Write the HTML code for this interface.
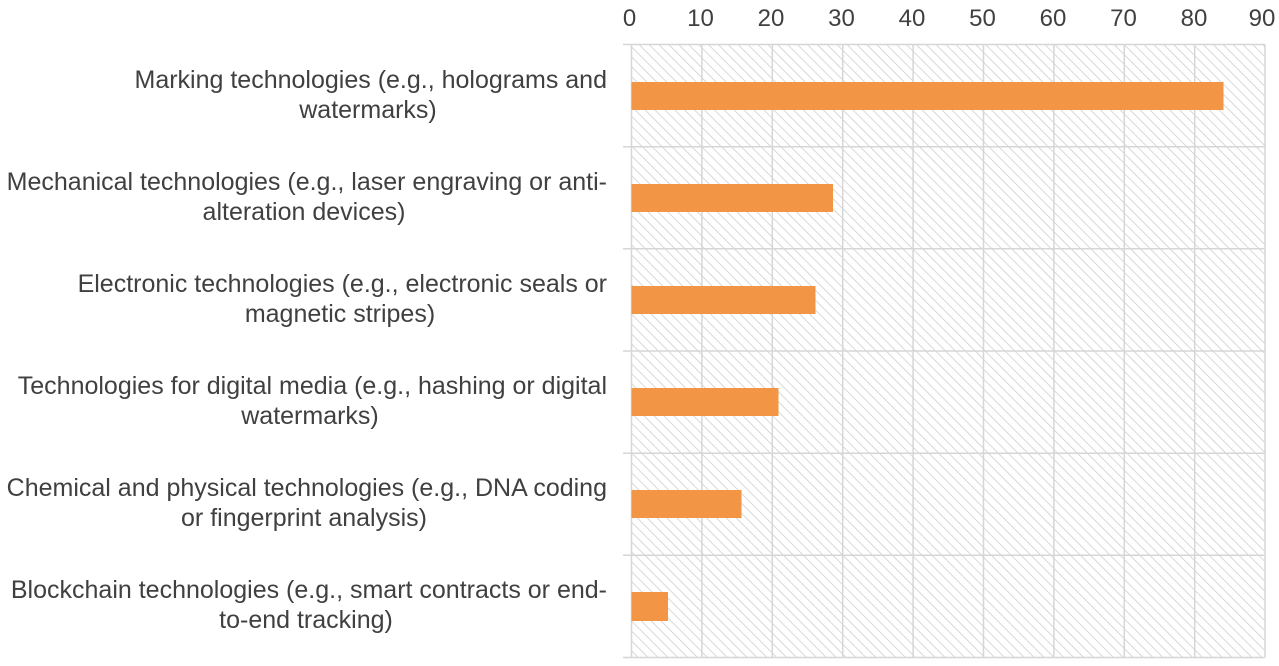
<!DOCTYPE html>
<html><head><meta charset="utf-8"><style>
body{margin:0;background:#fff;}
svg text{font-family:"Liberation Sans",Arial,sans-serif;fill:#404040;}
</style></head><body>
<svg width="1279" height="661" viewBox="0 0 1279 661" xmlns="http://www.w3.org/2000/svg">
<defs>
<pattern id="h" patternUnits="userSpaceOnUse" width="7" height="7" patternTransform="rotate(-45)">
<line x1="0" y1="0" x2="0" y2="7" stroke="#c8c8c8" stroke-width="1.4"/>
</pattern>
</defs>
<rect x="631.5" y="44.5" width="633.5" height="613" fill="url(#h)"/>
<g stroke="#d6d6d6" stroke-width="1.5" fill="none">
<line x1="631.5" y1="44.5" x2="1265" y2="44.5"/>
<line x1="623" y1="44.5" x2="631.5" y2="44.5"/>
<line x1="623" y1="146.7" x2="1265" y2="146.7"/>
<line x1="623" y1="248.8" x2="1265" y2="248.8"/>
<line x1="623" y1="351" x2="1265" y2="351"/>
<line x1="623" y1="453.2" x2="1265" y2="453.2"/>
<line x1="623" y1="555.3" x2="1265" y2="555.3"/>
<line x1="623" y1="657.5" x2="1265" y2="657.5"/>
<line x1="631.5" y1="44.5" x2="631.5" y2="657.5"/>
<line x1="701.9" y1="44.5" x2="701.9" y2="657.5"/>
<line x1="772.3" y1="44.5" x2="772.3" y2="657.5"/>
<line x1="842.7" y1="44.5" x2="842.7" y2="657.5"/>
<line x1="913.1" y1="44.5" x2="913.1" y2="657.5"/>
<line x1="983.5" y1="44.5" x2="983.5" y2="657.5"/>
<line x1="1053.9" y1="44.5" x2="1053.9" y2="657.5"/>
<line x1="1124.3" y1="44.5" x2="1124.3" y2="657.5"/>
<line x1="1194.7" y1="44.5" x2="1194.7" y2="657.5"/>
<line x1="1265" y1="44.5" x2="1265" y2="657.5"/>
</g>
<g fill="#f29645">
<rect x="631.5" y="82" width="592" height="28"/>
<rect x="631.5" y="184" width="201.5" height="28"/>
<rect x="631.5" y="286" width="184" height="28"/>
<rect x="631.5" y="388" width="147" height="28"/>
<rect x="631.5" y="490" width="110" height="28"/>
<rect x="631.5" y="592" width="36.5" height="29"/>
</g>
<g font-size="24" text-anchor="middle">
<text x="629.5" y="26">0</text><text x="700.5" y="26">10</text><text x="771" y="26">20</text>
<text x="841.5" y="26">30</text><text x="912" y="26">40</text><text x="982.5" y="26">50</text>
<text x="1053" y="26">60</text><text x="1123.5" y="26">70</text><text x="1194" y="26">80</text>
<text x="1262" y="26">90</text>
</g>
<g font-size="25" text-anchor="end">
<text x="607" y="88">Marking technologies (e.g., holograms and</text>
<text x="368" y="118" text-anchor="middle">watermarks)</text>
<text x="607" y="190">Mechanical technologies (e.g., laser engraving or anti-</text>
<text x="304" y="220" text-anchor="middle">alteration devices)</text>
<text x="607" y="292">Electronic technologies (e.g., electronic seals or</text>
<text x="340" y="322" text-anchor="middle">magnetic stripes)</text>
<text x="607" y="394">Technologies for digital media (e.g., hashing or digital</text>
<text x="310" y="424" text-anchor="middle">watermarks)</text>
<text x="607" y="496">Chemical and physical technologies (e.g., DNA coding</text>
<text x="304" y="526" text-anchor="middle">or fingerprint analysis)</text>
<text x="607" y="598">Blockchain technologies (e.g., smart contracts or end-</text>
<text x="306" y="628" text-anchor="middle">to-end tracking)</text>
</g>
</svg>
</body></html>
